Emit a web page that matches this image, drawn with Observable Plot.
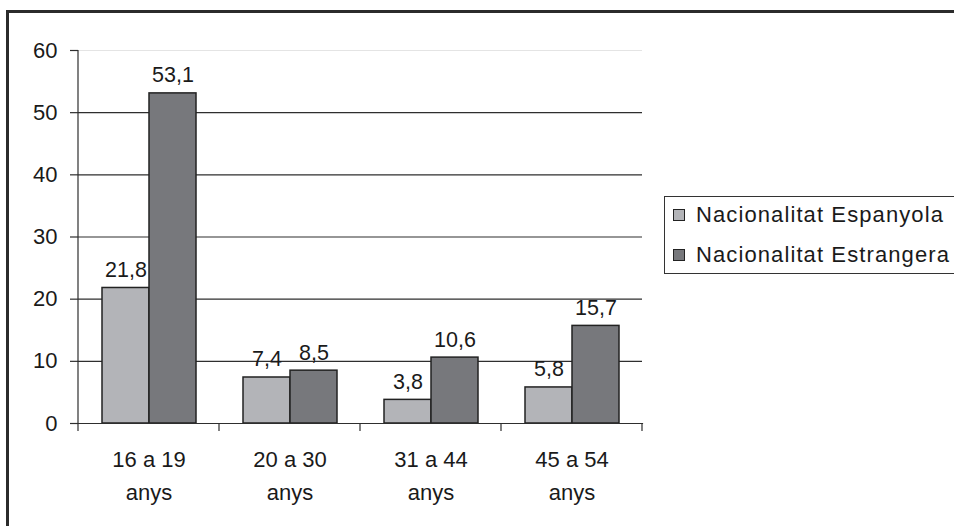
<!DOCTYPE html>
<html>
<head>
<meta charset="utf-8">
<script src="https://cdn.jsdelivr.net/npm/d3@7"></script>
<script src="https://cdn.jsdelivr.net/npm/@observablehq/plot@0.6"></script>
<style>
  html, body { margin: 0; padding: 0; background: #fff; overflow: hidden; }
  body { width: 954px; height: 526px; position: relative; font-family: "Liberation Sans", Arial, sans-serif; }
  #frame { position: absolute; left: 6px; top: 10px; width: 1000px; height: 600px;
           border-top: 3px solid #2b2b2b; border-left: 3px solid #2b2b2b; }
  #chart { position: absolute; left: 0; top: 0; }
  #legend { position: absolute; left: 664px; top: 196px; width: 400px; height: 76px;
            border: 1.5px solid #333; background: #fff; }
  .item { position: absolute; left: 8px; display: flex; align-items: center;
          font-size: 22px; letter-spacing: 1.1px; color: #1a1a1a; white-space: nowrap; }
  .sw { width: 10px; height: 10px; border: 1.2px solid #222; margin-right: 11px; }
</style>
</head>
<body>
<div id="frame"></div>
<div id="chart"></div>
<div id="legend"></div>
<script>
const categories = ["16 a 19 anys", "20 a 30 anys", "31 a 44 anys", "45 a 54 anys"];
const series = ["Nacionalitat Espanyola", "Nacionalitat Estrangera"];
const espanyola = [21.8, 7.4, 3.8, 5.8];
const estrangera = [53.1, 8.5, 10.6, 15.7];
const yTicks = [0, 10, 20, 30, 40, 50, 60];
const colors = ["#b3b4b8", "#77787c"];

const rows = [];
categories.forEach((c, i) => {
  rows.push({cat: c, series: series[0], value: espanyola[i]});
  rows.push({cat: c, series: series[1], value: estrangera[i]});
});

const plot = Plot.plot({
  width: 954,
  height: 526,
  marginLeft: 78,
  marginRight: 312,
  marginTop: 50,
  marginBottom: 103,
  style: {fontFamily: '"Liberation Sans", Arial, sans-serif', fontSize: "22px", color: "#1a1a1a", background: "transparent"},
  fx: {domain: categories, padding: 0, axis: null, label: null},
  x: {domain: series, paddingInner: 0, paddingOuter: 0.47, axis: null, label: null},
  y: {domain: [0, 60], axis: null, label: null},
  color: {domain: series, range: colors},
  marks: [
    Plot.ruleY(yTicks.filter(d => d > 0 && d < 60), {stroke: "#2e2e2e", strokeWidth: 1.2}),
    Plot.ruleY([60], {stroke: "#e4e4e4", strokeWidth: 1.2}),
    Plot.barY(rows, {fx: "cat", x: "series", y: "value", fill: "series", stroke: "#222", strokeWidth: 1.5}),
    Plot.text(rows, {fx: "cat", x: "series", y: "value", text: d => d.value.toFixed(1).replace(".", ","),
      lineAnchor: "bottom", dy: -11, fill: "#1a1a1a", fontSize: 21.5, letterSpacing: 0.3}),
    Plot.text(categories, {fx: d => d, frameAnchor: "bottom", text: d => d.replace(" anys", "\nanys"),
      lineAnchor: "top", dy: 20, lineHeight: 1.5, fill: "#1a1a1a", fontSize: 22, letterSpacing: 1.5}),
    Plot.frame({anchor: "bottom", stroke: "#2e2e2e", strokeWidth: 1.2}),
    Plot.axisY(yTicks, {tickSize: 8, tickPadding: 13, fontSize: 22, label: null, stroke: "#2e2e2e", fill: "#1a1a1a", strokeWidth: 1.2})
  ]
});
document.getElementById("chart").appendChild(plot);

// y axis line and category-boundary ticks, positioned with Plot's own scales
const svg = d3.select(plot);
const fx = plot.scale("fx");
const y = plot.scale("y");
const y0 = y.apply(0), y60 = y.apply(60);
const left = fx.apply(categories[0]);
svg.append("line").attr("x1", left).attr("x2", left).attr("y1", y60).attr("y2", y0)
  .attr("stroke", "#2e2e2e").attr("stroke-width", 1.2);
const bounds = categories.map(c => fx.apply(c));
bounds.push(fx.apply(categories[categories.length - 1]) + fx.bandwidth);
bounds.forEach(b => {
  svg.append("line").attr("x1", b).attr("x2", b).attr("y1", y0).attr("y2", y0 + 8)
    .attr("stroke", "#2e2e2e").attr("stroke-width", 1.2);
});

// legend
const legend = d3.select("#legend");
series.forEach((s, i) => {
  const item = legend.append("div").attr("class", "item").style("top", (i === 0 ? 5 : 45) + "px");
  item.append("div").attr("class", "sw").style("background", colors[i]);
  item.append("span").text(s);
});
</script>
</body>
</html>
